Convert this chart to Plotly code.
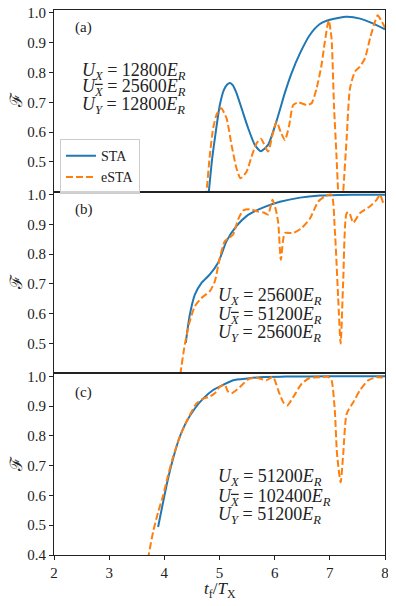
import plotly.graph_objects as go
from plotly.subplots import make_subplots

# ---------------- data ----------------
# panel (a)
xa_sta = [4.75, 4.807, 4.86, 4.916, 5.006, 5.08, 5.14, 5.19, 5.24, 5.30, 5.40, 5.52, 5.64, 5.75, 5.88, 6.03, 6.19, 6.30, 6.46, 6.64, 6.82, 7.00, 7.30, 7.55, 7.79, 8.0]
ya_sta = [0.30, 0.40, 0.50, 0.579, 0.691, 0.742, 0.760, 0.765, 0.758, 0.735, 0.680, 0.613, 0.557, 0.536, 0.557, 0.635, 0.735, 0.795, 0.865, 0.927, 0.963, 0.977, 0.987, 0.981, 0.964, 0.945]
xa_esta = [4.70, 4.765, 4.825, 4.885, 4.95, 5.03, 5.128, 5.218, 5.309, 5.38, 5.49, 5.58, 5.67, 5.75, 5.88, 5.96, 6.035, 6.11, 6.185, 6.26, 6.336, 6.43, 6.58, 6.67, 6.76, 6.85, 6.91, 6.98, 7.03, 7.075, 7.12, 7.15, 7.19, 7.243, 7.305, 7.365, 7.455, 7.546, 7.637, 7.73, 7.82, 7.867, 7.94, 8.0]
ya_esta = [0.28, 0.40, 0.523, 0.613, 0.66, 0.68, 0.646, 0.557, 0.478, 0.445, 0.467, 0.517, 0.562, 0.578, 0.535, 0.59, 0.635, 0.60, 0.573, 0.62, 0.691, 0.70, 0.691, 0.697, 0.747, 0.826, 0.904, 0.975, 0.916, 0.691, 0.523, 0.40, 0.25, 0.40, 0.579, 0.747, 0.803, 0.82, 0.848, 0.916, 0.972, 0.992, 0.972, 0.95]

# panel (b)
xb_sta = [4.389, 4.43, 4.462, 4.553, 4.674, 4.825, 4.975, 5.128, 5.31, 5.49, 5.672, 5.82, 6.095, 6.46, 6.82, 7.2, 7.6, 8.0]
yb_sta = [0.502, 0.56, 0.597, 0.664, 0.704, 0.732, 0.771, 0.844, 0.895, 0.928, 0.947, 0.959, 0.976, 0.990, 0.997, 0.999, 1.0, 1.0]
xb_esta = [4.25, 4.293, 4.37, 4.462, 4.553, 4.674, 4.825, 4.915, 5.006, 5.097, 5.175, 5.247, 5.338, 5.43, 5.55, 5.70, 5.80, 5.88, 5.96, 6.02, 6.065, 6.113, 6.185, 6.336, 6.49, 6.64, 6.79, 6.91, 7.03, 7.09, 7.15, 7.196, 7.243, 7.305, 7.35, 7.425, 7.546, 7.73, 7.85, 7.91, 7.97, 8.0]
yb_esta = [0.33, 0.40, 0.496, 0.575, 0.625, 0.653, 0.676, 0.709, 0.788, 0.844, 0.855, 0.866, 0.917, 0.947, 0.951, 0.943, 0.94, 0.933, 0.983, 0.95, 0.905, 0.781, 0.871, 0.871, 0.888, 0.92, 0.977, 0.994, 1.0, 0.882, 0.658, 0.50, 0.714, 0.938, 0.94, 0.906, 0.938, 0.961, 0.983, 1.0, 0.972, 0.97]

# panel (c)
xc_sta = [3.887, 3.978, 4.068, 4.159, 4.28, 4.40, 4.553, 4.703, 4.885, 5.066, 5.247, 5.52, 5.8, 6.2, 7.0, 8.0]
yc_sta = [0.494, 0.578, 0.657, 0.724, 0.797, 0.847, 0.892, 0.925, 0.954, 0.971, 0.987, 0.993, 0.998, 0.999, 1.0, 1.0]
xc_esta = [3.65, 3.72, 3.796, 3.887, 3.978, 4.068, 4.159, 4.28, 4.43, 4.583, 4.703, 4.825, 4.915, 5.006, 5.097, 5.15, 5.218, 5.37, 5.52, 5.67, 5.853, 5.97, 6.065, 6.155, 6.227, 6.336, 6.49, 6.64, 6.82, 6.97, 7.03, 7.09, 7.13, 7.196, 7.243, 7.305, 7.425, 7.546, 7.70, 7.85, 8.0]
yc_esta = [0.32, 0.404, 0.477, 0.544, 0.60, 0.668, 0.73, 0.797, 0.859, 0.909, 0.925, 0.932, 0.943, 0.965, 0.971, 0.95, 0.943, 0.964, 0.99, 0.995, 0.987, 0.998, 0.953, 0.913, 0.902, 0.93, 0.975, 0.995, 0.997, 0.998, 0.987, 0.886, 0.74, 0.644, 0.74, 0.874, 0.913, 0.953, 0.987, 0.997, 0.995]

panel_labels = ["(a)", "(b)", "(c)"]
param_lines = [
    ["12800", "25600", "12800"],
    ["25600", "51200", "25600"],
    ["51200", "102400", "51200"],
]
x_ticks = [2, 3, 4, 5, 6, 7, 8]
y_ticks_ab = [0.5, 0.6, 0.7, 0.8, 0.9, 1.0]
y_ticks_c = [0.4, 0.5, 0.6, 0.7, 0.8, 0.9, 1.0]

# ---------------- figure ----------------
BLUE = "#1f77b4"
ORANGE = "#ff7f0e"
FONT = "Liberation Serif"
TXT = "#222222"

fig = make_subplots(rows=3, cols=1, shared_xaxes=True, vertical_spacing=0)

data = [(xa_sta, ya_sta, xa_esta, ya_esta),
        (xb_sta, yb_sta, xb_esta, yb_esta),
        (xc_sta, yc_sta, xc_esta, yc_esta)]

for i, (xs, ys, xe, ye) in enumerate(data):
    row = i + 1
    fig.add_hline(y=1.0, line=dict(color="#808080", width=1.2, dash="5px,3px"), row=row, col=1)
    fig.add_trace(go.Scatter(x=xs, y=ys, mode="lines", name="STA",
                             line=dict(color=BLUE, width=2, shape="spline", smoothing=0.6),
                             showlegend=(i == 0)), row=row, col=1)
    fig.add_trace(go.Scatter(x=xe, y=ye, mode="lines", name="eSTA",
                             line=dict(color=ORANGE, width=2, dash="7px,3px", shape="spline", smoothing=0.6),
                             showlegend=(i == 0)), row=row, col=1)

axis_common = dict(showline=True, mirror=True, linecolor="#222222", linewidth=1,
                   showgrid=False, zeroline=False, ticklen=4, automargin=False,
                   ticklabeloverflow="allow",
                   tickcolor="#222222", tickfont=dict(family=FONT, size=15, color=TXT))

for row in (1, 2, 3):
    fig.update_xaxes(range=[2, 8], tickvals=x_ticks, showticklabels=(row == 3),
                     ticks=("outside" if row == 3 else ""), row=row, col=1, **axis_common)
    fig.update_yaxes(range=[0.4, 1.01], tickvals=(y_ticks_c if row == 3 else y_ticks_ab),
                     tickformat=".1f", ticks="outside", row=row, col=1, **axis_common)

annos = []
label_y = [0.905, 0.90, 0.897]
param_x = [0.08, 0.49, 0.49]
param_y = [[0.659, 0.571, 0.472], [0.422, 0.321, 0.222], [0.424, 0.319, 0.220]]
axis_names = ["", "2", "3"]
XBAR = "<span style='text-decoration:overline'><i>X</i></span>"
for i in range(3):
    xr = "x%s domain" % axis_names[i]
    yr = "y%s domain" % axis_names[i]
    annos.append(dict(text=panel_labels[i], x=0.057, y=label_y[i], xref=xr, yref=yr,
                      xanchor="left", yanchor="middle", showarrow=False,
                      font=dict(family=FONT, size=15, color=TXT)))
    # y-axis title
    annos.append(dict(text="ℱ", x=-0.113, y=0.5, xref="paper", yref=yr,
                      xanchor="center", yanchor="middle", textangle=-90, showarrow=False,
                      font=dict(family=FONT, size=17, color=TXT)))
    vals = param_lines[i]
    texts = [
        "<i>U</i><sub><i>X</i></sub> = %s<i>E</i><sub><i>R</i></sub>" % vals[0],
        "<i>U</i><sub>%s</sub> = %s<i>E</i><sub><i>R</i></sub>" % (XBAR, vals[1]),
        "<i>U</i><sub><i>Y</i></sub> = %s<i>E</i><sub><i>R</i></sub>" % vals[2],
    ]
    for t, yy in zip(texts, param_y[i]):
        annos.append(dict(text=t, x=param_x[i], y=yy, xref=xr, yref=yr,
                          xanchor="left", yanchor="middle", showarrow=False,
                          font=dict(family=FONT, size=18, color=TXT)))

# x-axis title
annos.append(dict(text="<i>t</i><sub>f</sub>/<i>T</i><sub>X</sub>", x=0.5, y=-0.064,
                  xref="paper", yref="paper", xanchor="center", yanchor="middle",
                  showarrow=False, font=dict(family=FONT, size=17, color=TXT)))

# the page body adds an 8px margin (left/top), so the figure is offset to land where the reference is
fig.update_layout(
    width=380, height=598,
    margin=dict(l=46, r=3, t=2, b=51),
    plot_bgcolor="white", paper_bgcolor="white",
    annotations=annos,
    legend=dict(x=0.018, y=0.763, xanchor="left", yanchor="top",
                bgcolor="rgba(255,255,255,0.8)", bordercolor="#cccccc", borderwidth=1,
                font=dict(family=FONT, size=14, color=TXT), tracegroupgap=0,
                itemwidth=30),
)

fig.write_html("out.html")
